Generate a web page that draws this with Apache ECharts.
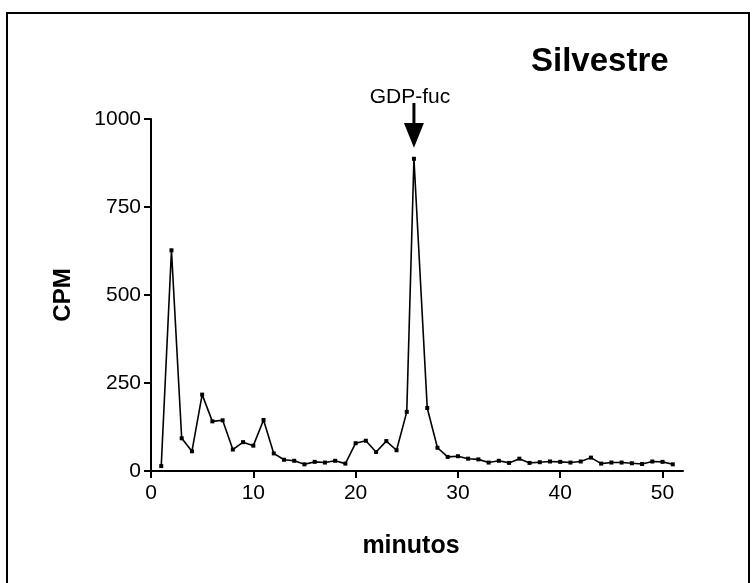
<!DOCTYPE html>
<html>
<head>
<meta charset="utf-8">
<script src="https://cdn.jsdelivr.net/npm/echarts@6/dist/echarts.min.js"></script>
<style>
  html, body { margin: 0; padding: 0; background: #fff; }
  #chart { width: 754px; height: 583px; }
</style>
</head>
<body>
<div id="chart"></div>
<script>
// minutos (fracciones) y CPM
var minutos = [1, 2, 3, 4, 5, 6, 7, 8, 9, 10, 11, 12, 13, 14, 15, 16, 17, 18, 19, 20,
  21, 22, 23, 24, 25, 25.7, 27, 28, 29, 30, 31, 32, 33, 34, 35, 36, 37, 38, 39, 40,
  41, 42, 43, 44, 45, 46, 47, 48, 49, 50, 51];
var cpm = [14, 627, 93, 56, 217, 141, 144, 61, 82, 72, 145, 50, 32, 29, 19, 26, 24, 29, 21, 79,
  86, 54, 85, 59, 168, 887, 179, 66, 40, 42, 35, 33, 24, 29, 23, 35, 23, 25, 27, 26,
  24, 27, 38, 21, 24, 24, 22, 20, 27, 26, 19];
var xTicks = [0, 10, 20, 30, 40, 50];
var yTicks = [0, 250, 500, 750, 1000];
var picoGDP = [25.7, 887];

var font = '"Liberation Sans", Arial, sans-serif';
var myChart = echarts.init(document.getElementById('chart'), null, { renderer: 'canvas' });

var puntos = minutos.map(function (m, i) { return [m, cpm[i]]; });

var option = {
  backgroundColor: '#fff',
  animation: false,
  title: {
    text: 'Silvestre',
    left: 526,
    top: 40,
    textStyle: { fontFamily: font, fontSize: 33, fontWeight: 'bold', color: '#000' }
  },
  grid: { left: 151, top: 119, right: 71, bottom: 112, containLabel: false },
  xAxis: {
    type: 'value',
    min: 0,
    max: 52,
    interval: 10,
    axisLine: { onZero: false, lineStyle: { color: '#000', width: 2 } },
    axisTick: { show: true, length: 7, lineStyle: { color: '#000', width: 2 }, customValues: xTicks },
    axisLabel: { customValues: xTicks, fontFamily: font, fontSize: 21, color: '#000', margin: 12 },
    splitLine: { show: false }
  },
  yAxis: {
    type: 'value',
    min: 0,
    max: 1000,
    interval: 250,
    name: 'CPM',
    nameLocation: 'middle',
    nameRotate: 90,
    nameGap: 76,
    nameTextStyle: { fontFamily: font, fontSize: 24, fontWeight: 'bold', color: '#000' },
    axisLine: { show: true, lineStyle: { color: '#000', width: 2 } },
    axisTick: { show: true, length: 7, lineStyle: { color: '#000', width: 2 }, customValues: yTicks },
    axisLabel: {
      customValues: yTicks, fontFamily: font, fontSize: 21, color: '#000', margin: 10,
      formatter: function (v) { return String(v); }
    },
    splitLine: { show: false }
  },
  series: [{
    type: 'line',
    data: puntos,
    symbol: 'rect',
    symbolSize: 4,
    showAllSymbol: true,
    lineStyle: { color: '#000', width: 1.6 },
    itemStyle: { color: '#000' }
  }]
};
myChart.setOption(option);

// flecha "GDP-fuc" sobre el pico, marco y nombre del eje x
var p = myChart.convertToPixel({ gridIndex: 0 }, picoGDP);
myChart.setOption({
  graphic: [
    {
      type: 'rect',
      shape: { x: 7, y: 13, width: 742, height: 600 },
      style: { fill: null, stroke: '#000', lineWidth: 2 },
      silent: true
    },
    {
      type: 'text',
      x: 411,
      y: 546,
      style: { text: 'minutos', font: 'bold 25px ' + font, fill: '#000', align: 'center', verticalAlign: 'middle' }
    },
    {
      type: 'text',
      x: p[0] - 4,
      y: 97,
      style: { text: 'GDP-fuc', font: '21px ' + font, fill: '#000', align: 'center', verticalAlign: 'middle' }
    },
    {
      type: 'line',
      shape: { x1: p[0], y1: 103, x2: p[0], y2: 125 },
      style: { stroke: '#000', lineWidth: 3 }
    },
    {
      type: 'polygon',
      shape: { points: [[p[0] - 10, 123], [p[0] + 10, 123], [p[0], p[1] - 11]] },
      style: { fill: '#000' }
    }
  ]
});
</script>
</body>
</html>
